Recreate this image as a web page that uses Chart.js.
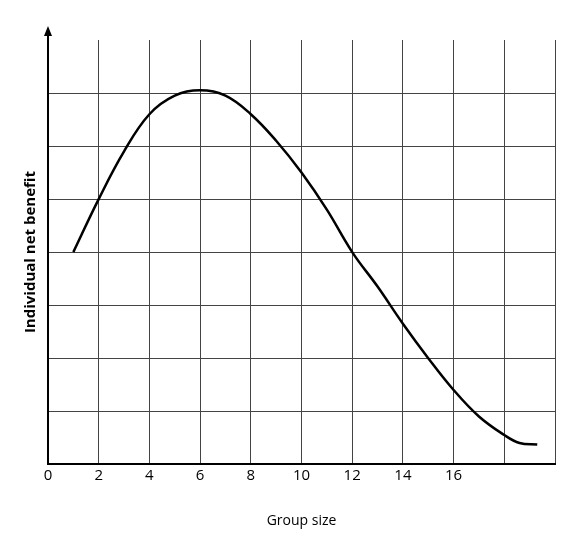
<!DOCTYPE html>
<html><head><script src="https://cdn.jsdelivr.net/npm/chart.js"></script>
<style>body{margin:0;background:#fff}#w{width:575px;height:535px}</style></head>
<body><div id="w"><canvas id="c"></canvas></div>
<script>
const xs=[1,2,3,4,5,6,7,8,9,10,11,12,13,14,15,16,17,18,18.6,19.3];
const ys=[4,5,5.9,6.6,6.95,7.05,6.95,6.6,6.1,5.5,4.8,4,3.35,2.65,2,1.4,0.9,0.55,0.4,0.37];
const xTickLabels=['0','2','4','6','8','10','12','14','16'];
const arrows={id:'arrows',afterDraw(ch){const c=ch.ctx,a=ch.chartArea;c.save();c.strokeStyle='#000';c.fillStyle='#000';c.lineWidth=2;
c.beginPath();c.moveTo(a.left,a.bottom);c.lineTo(a.left,a.top-8);c.stroke();
c.beginPath();c.moveTo(a.left,a.top-14);c.lineTo(a.left-4,a.top-4);c.lineTo(a.left+4,a.top-4);c.closePath();c.fill();c.restore();}};
new Chart(document.getElementById('c'),{type:'line',
data:{datasets:[{data:xs.map((x,i)=>({x,y:ys[i]})),borderColor:'#000',borderWidth:2.5,pointRadius:0,tension:0.4}]},
options:{responsive:true,maintainAspectRatio:false,animation:false,
layout:{padding:{top:40,right:20,left:18,bottom:2}},
plugins:{legend:{display:false},tooltip:{enabled:false}},
scales:{
x:{type:'linear',min:0,max:20,ticks:{stepSize:2,color:'#000',font:{family:'Open Sans',size:15},callback:v=>xTickLabels[v/2]??''},
 grid:{color:'#444',lineWidth:1,drawTicks:false},border:{color:'#000',width:2},
 title:{display:true,text:'Group size',color:'#000',font:{family:'Open Sans',size:14},padding:{top:24}}},
y:{min:0,max:8,ticks:{display:false,stepSize:1},grid:{color:c=>c.tick.value>=8?'rgba(0,0,0,0)':'#444',drawTicks:false},border:{color:'#000',width:2},
 title:{display:true,text:'Individual net benefit',color:'#000',font:{family:'Open Sans',size:15,weight:'bold'},padding:{bottom:8}}}}},
plugins:[arrows]});
</script></body></html>
